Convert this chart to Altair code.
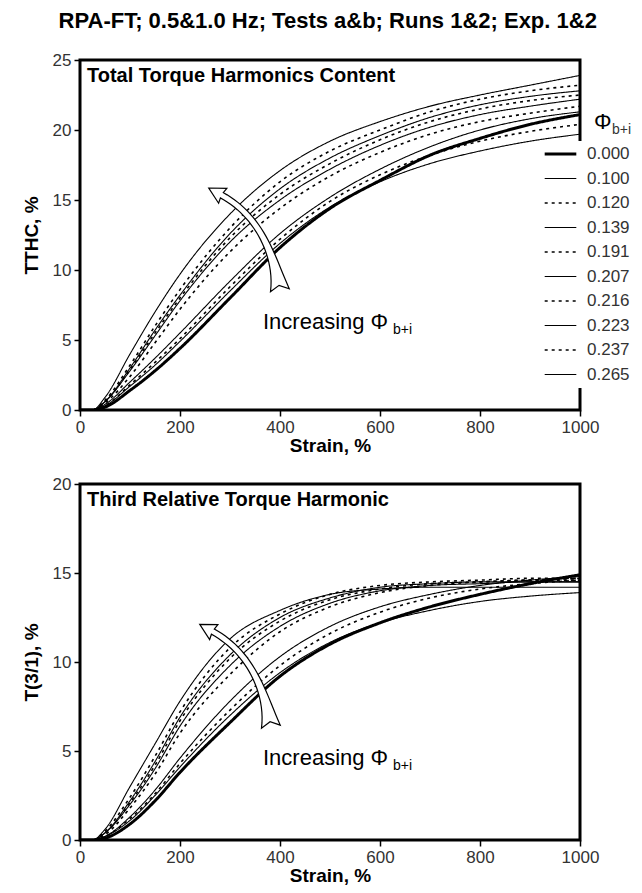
import altair as alt
import pandas as pd
import numpy as np

# ---------------- data ----------------
strain = [0, 25, 50, 100, 150, 200, 300, 400, 500, 600, 700, 800, 900, 1000]
phi_labels = ["0.000", "0.100", "0.120", "0.139", "0.191",
              "0.207", "0.216", "0.223", "0.237", "0.265"]

# Total Torque Harmonics Content, %
tthc = {
    "0.000": [0, 0, 0.2, 1.4, 2.8, 4.4, 8.0, 11.6, 14.4, 16.4, 18.2, 19.4, 20.4, 21.1],
    "0.100": [0, 0, 0.3, 1.7, 3.2, 4.9, 8.5, 11.9, 14.5, 16.3, 17.6, 18.5, 19.2, 19.7],
    "0.120": [0, 0, 0.3, 1.8, 3.4, 5.1, 8.8, 12.2, 14.9, 16.8, 18.2, 19.2, 19.9, 20.4],
    "0.139": [0, 0, 0.4, 2.0, 3.7, 5.5, 9.2, 12.6, 15.2, 17.2, 18.8, 20.0, 20.8, 21.3],
    "0.191": [0, 0, 0.5, 2.4, 4.8, 7.2, 11.3, 14.4, 16.7, 18.4, 19.7, 20.6, 21.2, 21.7],
    "0.207": [0, 0, 0.6, 2.8, 5.3, 7.8, 12.0, 15.0, 17.2, 18.9, 20.2, 21.1, 21.7, 22.2],
    "0.216": [0, 0, 0.6, 2.9, 5.5, 8.0, 12.3, 15.4, 17.6, 19.3, 20.6, 21.5, 22.1, 22.5],
    "0.223": [0, 0, 0.6, 3.0, 5.7, 8.2, 12.6, 15.8, 18.0, 19.6, 20.9, 21.8, 22.4, 22.8],
    "0.237": [0, 0, 0.7, 3.2, 6.0, 8.6, 13.0, 16.3, 18.5, 20.0, 21.3, 22.2, 22.8, 23.2],
    "0.265": [0, 0, 0.9, 4.0, 7.0, 9.7, 14.0, 17.1, 19.2, 20.6, 21.7, 22.5, 23.2, 23.9],
}

# Third relative torque harmonic T(3/1), %
t31 = {
    "0.000": [0, 0, 0.1, 0.9, 2.2, 3.8, 6.6, 9.2, 11.0, 12.2, 13.1, 13.8, 14.4, 14.9],
    "0.100": [0, 0, 0.2, 1.1, 2.5, 4.1, 7.0, 9.4, 11.1, 12.2, 12.9, 13.4, 13.7, 13.9],
    "0.120": [0, 0, 0.2, 1.2, 2.6, 4.3, 7.3, 9.8, 11.6, 12.8, 13.6, 14.1, 14.4, 14.6],
    "0.139": [0, 0, 0.2, 1.3, 2.8, 4.6, 7.8, 10.3, 12.0, 13.1, 13.8, 14.3, 14.6, 14.8],
    "0.191": [0, 0, 0.3, 1.8, 3.7, 6.0, 9.3, 11.7, 13.1, 13.9, 14.3, 14.5, 14.6, 14.7],
    "0.207": [0, 0, 0.4, 2.0, 4.0, 6.4, 9.8, 12.0, 13.3, 14.0, 14.3, 14.4, 14.5, 14.5],
    "0.216": [0, 0, 0.4, 2.1, 4.2, 6.7, 10.2, 12.3, 13.5, 14.1, 14.4, 14.5, 14.6, 14.6],
    "0.223": [0, 0, 0.4, 2.2, 4.4, 6.9, 10.4, 12.5, 13.6, 14.2, 14.4, 14.5, 14.5, 14.5],
    "0.237": [0, 0, 0.5, 2.4, 4.7, 7.2, 10.8, 12.7, 13.8, 14.3, 14.5, 14.6, 14.7, 14.7],
    "0.265": [0, 0, 0.6, 3.0, 5.4, 7.8, 11.3, 12.9, 13.8, 14.1, 14.2, 14.2, 14.2, 14.2],
}

x_ticks = [0, 200, 400, 600, 800, 1000]
y_ticks_top = [0, 5, 10, 15, 20, 25]
y_ticks_bot = [0, 5, 10, 15, 20]


def long_df(d):
    rows = []
    for k in phi_labels:
        for s, v in zip(strain, d[k]):
            rows.append({"strain": s, "value": v, "phi": k})
    return pd.DataFrame(rows)


df_top = long_df(tthc)
df_bot = long_df(t31)

# line styles per series (scale ranges)
dash_range = [[1, 0], [1, 0], [3, 4], [1, 0], [3, 4], [1, 0], [3, 4], [1, 0], [3, 4], [1, 0]]
width_range = [3.0, 1.1, 1.6, 1.1, 1.6, 1.1, 1.6, 1.1, 1.6, 1.1]

SANS = "Liberation Sans, Arial, Helvetica"


# ---------------- curved arrow annotation shape ----------------
def arrow_shape():
    P0 = np.array([282.0, 292.0])
    C = np.array([271.0, 223.0])
    P2 = np.array([224.0, 197.0])
    ts = np.linspace(0, 1, 26)
    pts = ((1 - ts) ** 2)[:, None] * P0 + (2 * ts * (1 - ts))[:, None] * C + (ts ** 2)[:, None] * P2
    der = (2 * (1 - ts))[:, None] * (C - P0) + (2 * ts)[:, None] * (P2 - C)
    tang = der / np.linalg.norm(der, axis=1)[:, None]
    nrm = np.stack([-tang[:, 1], tang[:, 0]], axis=1)
    w = 3.0 + 6.5 * (1 - ts) ** 6
    left = pts + nrm * w[:, None]
    right = pts - nrm * w[:, None]
    tip = P2 + tang[-1] * 15
    barb_l = P2 + nrm[-1] * 8.5 - tang[-1] * 1.0
    barb_r = P2 - nrm[-1] * 8.5 - tang[-1] * 1.0
    notch = P0 + tang[0] * 5.0
    poly = list(left) + [barb_l, tip, barb_r] + list(right[::-1]) + [notch]
    poly = np.array(poly)
    ctr = (poly.min(axis=0) + poly.max(axis=0)) / 2
    half = np.abs(poly - ctr).max() * 1.02
    q = (poly - ctr) / half
    path = "M" + " L".join(f"{a:.4f},{b:.4f}" for a, b in q) + " Z"
    return path, (2 * half) ** 2


arrow_path, arrow_size = arrow_shape()

arrow_top = pd.DataFrame({"strain": [338], "value": [12.15]})
arrow_bot = pd.DataFrame({"strain": [320], "value": [9.2]})

lbl_top = pd.DataFrame({"strain": [366], "value": [6.3], "t": ["Increasing \u03a6"]})
sub_top = pd.DataFrame({"strain": [626], "value": [5.75], "t": ["b+i"]})
lbl_bot = pd.DataFrame({"strain": [366], "value": [4.6], "t": ["Increasing \u03a6"]})
sub_bot = pd.DataFrame({"strain": [626], "value": [4.15], "t": ["b+i"]})

legend_head = pd.DataFrame({"t": ["\u03a6"]})
legend_sub = pd.DataFrame({"t": ["b+i"]})


def panel(df, y_title, y_max, y_ticks, h, arrow_df, lbl_df, sub_df, title, show_legend):
    xenc = alt.X("strain:Q", scale=alt.Scale(domain=[0, 1000], nice=False),
                 axis=alt.Axis(values=x_ticks, title="Strain, %", format="d", labelFlush=False))
    yenc = alt.Y("value:Q", scale=alt.Scale(domain=[0, y_max], nice=False),
                 axis=alt.Axis(values=y_ticks, title=y_title, labelFlush=False))
    dscale = alt.Scale(type="ordinal", domain=phi_labels, range=dash_range)
    wscale = alt.Scale(type="ordinal", domain=phi_labels, range=width_range)
    if show_legend:
        leg = alt.Legend(title=None, orient="none", legendX=458, legendY=81,
                         symbolType="stroke", symbolSize=1000, symbolStrokeColor="black",
                         labelFont=SANS, labelFontSize=17, labelColor="#333333",
                         clipHeight=16, rowPadding=7.5, padding=5, fillColor="white",
                         labelOffset=9)
        dash = alt.StrokeDash("phi:N", scale=dscale, sort=phi_labels, legend=leg)
        wid = alt.StrokeWidth("phi:N", scale=wscale, sort=phi_labels, legend=leg)
    else:
        dash = alt.StrokeDash("phi:N", scale=dscale, sort=phi_labels, legend=None)
        wid = alt.StrokeWidth("phi:N", scale=wscale, sort=phi_labels, legend=None)

    lines = alt.Chart(df).mark_line(interpolate="monotone", color="black", clip=True).encode(
        x=xenc, y=yenc, strokeDash=dash, strokeWidth=wid, detail="phi:N"
    )
    arrow = alt.Chart(arrow_df).mark_point(
        shape=arrow_path, size=arrow_size, filled=True, fill="white", stroke="black",
        strokeWidth=1.2, opacity=1
    ).encode(x="strain:Q", y="value:Q")
    lbl = alt.Chart(lbl_df).mark_text(align="left", baseline="middle", fontSize=22,
                                      font=SANS, color="black").encode(
        x="strain:Q", y="value:Q", text="t:N")
    sub = alt.Chart(sub_df).mark_text(align="left", baseline="middle", fontSize=14,
                                      font=SANS, color="black").encode(
        x="strain:Q", y="value:Q", text="t:N")
    ttl = alt.Chart(pd.DataFrame({"t": [title]})).mark_text(
        align="left", baseline="middle", fontSize=20, font=SANS, fontWeight="bold",
        color="black").encode(x=alt.value(7), y=alt.value(16), text="t:N")
    layers = [lines, arrow, lbl, sub, ttl]
    if show_legend:
        head = alt.Chart(legend_head).mark_text(align="left", baseline="middle", fontSize=22,
                                                font=SANS, color="black").encode(
            x=alt.value(514), y=alt.value(62), text="t:N")
        hsub = alt.Chart(legend_sub).mark_text(align="left", baseline="middle", fontSize=14,
                                               font=SANS, color="#333333").encode(
            x=alt.value(532), y=alt.value(70), text="t:N")
        layers += [head, hsub]
    return alt.layer(*layers).properties(width=500, height=h)


top = panel(df_top, "TTHC, %", 25, y_ticks_top, 350, arrow_top, lbl_top, sub_top,
            "Total Torque Harmonics Content", True)
bot = panel(df_bot, "T(3/1), %", 20, y_ticks_bot, 356, arrow_bot, lbl_bot, sub_bot,
            "Third Relative Torque Harmonic", False)

chart = alt.vconcat(top, bot, spacing=16).resolve_scale(
    strokeDash="independent", strokeWidth="independent"
).properties(
    title=alt.TitleParams("RPA-FT; 0.5&1.0 Hz; Tests a&b; Runs 1&2; Exp. 1&2",
                          anchor="start", dx=38, fontSize=22, font=SANS,
                          fontWeight="bold", color="black", offset=17),
    padding={"left": 20, "top": 9, "right": 0, "bottom": 0},
).configure_view(
    stroke="black", strokeWidth=3
).configure_axis(
    grid=False, domain=False, ticks=True, tickColor="black", tickWidth=1.5, tickSize=6,
    labelFont=SANS, labelFontSize=17, labelColor="#333333", labelPadding=3,
    titleFont=SANS, titleFontSize=19, titleFontWeight="bold", titleColor="black",
).configure_axisY(
    titlePadding=11
).configure_axisX(
    titlePadding=1
).configure_title(
    anchor="start"
)

chart.save("out.html", embed_options={"renderer": "svg", "actions": False})
